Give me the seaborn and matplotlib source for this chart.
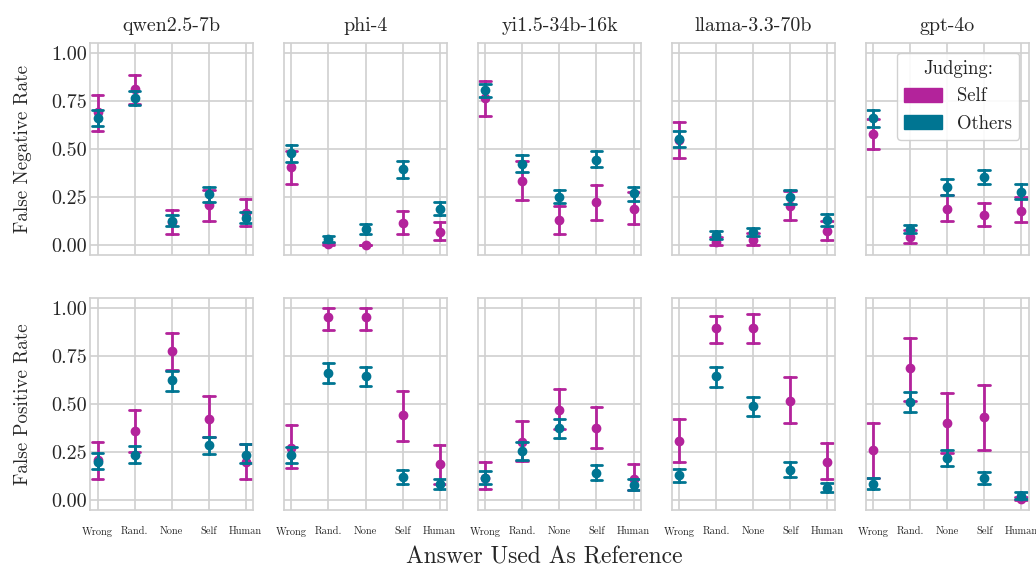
import numpy as np
import pandas as pd
import matplotlib
matplotlib.use("Agg")
import matplotlib.pyplot as plt
from matplotlib.patches import Patch
import seaborn as sns

models = ["qwen2.5-7b", "phi-4", "yi1.5-34b-16k", "llama-3.3-70b", "gpt-4o"]
categories = ["Wrong", "Rand.", "None", "Self", "Human"]
judges = ["Self", "Others"]
metrics = ["False Negative Rate", "False Positive Rate"]

# ---- False Negative Rate: (mean, low, high) per model, per category ----
fnr_self_mean = [
    [0.696, 0.815, 0.120, 0.210, 0.170],
    [0.407, 0.005, 0.000, 0.115, 0.071],
    [0.765, 0.336, 0.130, 0.226, 0.190],
    [0.550, 0.017, 0.026, 0.205, 0.075],
    [0.579, 0.043, 0.188, 0.160, 0.181],
]
fnr_self_lo = [
    [0.597, 0.735, 0.061, 0.127, 0.099],
    [0.317, 0.000, 0.000, 0.061, 0.026],
    [0.673, 0.238, 0.061, 0.134, 0.113],
    [0.457, 0.000, 0.000, 0.130, 0.030],
    [0.499, 0.014, 0.127, 0.099, 0.122],
]
fnr_self_hi = [
    [0.783, 0.887, 0.183, 0.290, 0.243],
    [0.492, 0.012, 0.000, 0.181, 0.122],
    [0.857, 0.440, 0.205, 0.315, 0.277],
    [0.643, 0.043, 0.064, 0.282, 0.127],
    [0.656, 0.078, 0.261, 0.219, 0.252],
]
fnr_others_mean = [
    [0.664, 0.767, 0.125, 0.266, 0.143],
    [0.482, 0.031, 0.083, 0.395, 0.191],
    [0.809, 0.424, 0.252, 0.445, 0.270],
    [0.551, 0.052, 0.070, 0.252, 0.134],
    [0.661, 0.087, 0.304, 0.355, 0.280],
]
fnr_others_lo = [
    [0.621, 0.729, 0.099, 0.224, 0.118],
    [0.433, 0.016, 0.059, 0.353, 0.160],
    [0.774, 0.384, 0.219, 0.407, 0.233],
    [0.510, 0.035, 0.049, 0.216, 0.103],
    [0.617, 0.064, 0.261, 0.317, 0.243],
]
fnr_others_hi = [
    [0.704, 0.803, 0.157, 0.304, 0.174],
    [0.522, 0.047, 0.110, 0.438, 0.226],
    [0.840, 0.470, 0.287, 0.489, 0.306],
    [0.597, 0.073, 0.092, 0.290, 0.162],
    [0.704, 0.108, 0.348, 0.393, 0.318],
]

# ---- False Positive Rate ----
fpr_self_mean = [
    [0.207, 0.357, 0.776, 0.422, 0.198],
    [0.271, 0.950, 0.950, 0.441, 0.188],
    [0.117, 0.302, 0.471, 0.374, 0.110],
    [0.305, 0.897, 0.897, 0.517, 0.198],
    [0.259, 0.686, 0.400, 0.431, 0.007],
]
fpr_self_lo = [
    [0.112, 0.250, 0.676, 0.328, 0.109],
    [0.167, 0.886, 0.883, 0.309, 0.083],
    [0.057, 0.205, 0.371, 0.271, 0.050],
    [0.198, 0.817, 0.817, 0.400, 0.107],
    [0.114, 0.517, 0.243, 0.262, 0.000],
]
fpr_self_hi = [
    [0.302, 0.466, 0.867, 0.540, 0.290],
    [0.388, 1.000, 1.000, 0.566, 0.288],
    [0.197, 0.409, 0.576, 0.483, 0.188],
    [0.421, 0.959, 0.967, 0.638, 0.297],
    [0.400, 0.843, 0.555, 0.600, 0.017],
]
fpr_others_mean = [
    [0.200, 0.234, 0.622, 0.284, 0.236],
    [0.233, 0.660, 0.643, 0.121, 0.083],
    [0.117, 0.253, 0.374, 0.143, 0.078],
    [0.129, 0.643, 0.490, 0.159, 0.062],
    [0.086, 0.510, 0.219, 0.116, 0.021],
]
fpr_others_lo = [
    [0.164, 0.191, 0.567, 0.240, 0.191],
    [0.191, 0.610, 0.593, 0.086, 0.055],
    [0.084, 0.207, 0.324, 0.103, 0.050],
    [0.093, 0.590, 0.436, 0.119, 0.040],
    [0.057, 0.460, 0.178, 0.084, 0.003],
]
fpr_others_hi = [
    [0.247, 0.279, 0.672, 0.329, 0.291],
    [0.276, 0.712, 0.691, 0.155, 0.110],
    [0.150, 0.303, 0.422, 0.183, 0.107],
    [0.164, 0.693, 0.538, 0.197, 0.088],
    [0.114, 0.560, 0.259, 0.147, 0.040],
]

colors = {"Self": "#b3239b", "Others": "#007592"}

tables = {
    ("False Negative Rate", "Self"): (fnr_self_lo, fnr_self_mean, fnr_self_hi),
    ("False Negative Rate", "Others"): (fnr_others_lo, fnr_others_mean, fnr_others_hi),
    ("False Positive Rate", "Self"): (fpr_self_lo, fpr_self_mean, fpr_self_hi),
    ("False Positive Rate", "Others"): (fpr_others_lo, fpr_others_mean, fpr_others_hi),
}

rows = []
for (metric, judge), (lo, mid, hi) in tables.items():
    for mi, model in enumerate(models):
        for ci, cat in enumerate(categories):
            for v in (lo[mi][ci], mid[mi][ci], hi[mi][ci]):
                rows.append(dict(metric=metric, model=model, ref=cat, judge=judge, value=v))
df = pd.DataFrame(rows)

sns.set_theme(style="whitegrid")
plt.rcParams["font.family"] = ["cmr10", "DejaVu Serif"]
plt.rcParams["mathtext.fontset"] = "cm"
plt.rcParams["axes.formatter.use_mathtext"] = True
plt.rcParams["axes.unicode_minus"] = False

fig, axes = plt.subplots(2, 5, figsize=(10.36, 5.68), dpi=100, sharey=True)
fig.subplots_adjust(left=0.087, right=0.993, top=0.924, bottom=0.102,
                    wspace=0.19, hspace=0.2)

for r, metric in enumerate(metrics):
    for c, model in enumerate(models):
        ax = axes[r, c]
        sub = df[(df.metric == metric) & (df.model == model)]
        sns.pointplot(data=sub, x="ref", y="value", hue="judge",
                      order=categories, hue_order=judges, palette=colors,
                      estimator="median",
                      errorbar=lambda v: (np.min(v), np.max(v)),
                      capsize=0.32, linestyle="none", markers="o",
                      markersize=5, err_kws={"linewidth": 2.0},
                      dodge=False, legend=False, ax=ax)
        ax.set_xlim(-0.2, 4.2)
        ax.set_ylim(-0.052, 1.052)
        ax.set_yticks([0, 0.25, 0.5, 0.75, 1.0])
        ax.set_yticklabels(["0.00", "0.25", "0.50", "0.75", "1.00"])
        ax.set_xlabel("")
        ax.set_ylabel(metric if c == 0 else "", fontsize=13.7, labelpad=14)
        ax.tick_params(axis="y", labelsize=14.5, pad=2, length=0)
        ax.grid(True, color="#d0d0d0", linewidth=1.2)
        for s in ax.spines.values():
            s.set_color("#d0d0d0")
            s.set_linewidth(1.2)
        if r == 0:
            ax.set_title(model, fontsize=14.4, pad=9)
            ax.tick_params(axis="x", labelbottom=False, length=0)
        else:
            ax.tick_params(axis="x", labelsize=7.5, pad=12, length=0)

handles = [Patch(facecolor=colors[j], edgecolor=colors[j], label=j) for j in judges]
axes[0, 4].legend(handles=handles, title="Judging:", loc="upper right",
                  fontsize=13.5, title_fontsize=13.5, framealpha=0.9,
                  handlelength=2.0, handleheight=0.8, borderaxespad=0.5)

fig.text(0.5255, 0.0, "Answer Used As Reference", ha="center", va="bottom",
         fontsize=17)

fig.savefig("out.png", dpi=100)
